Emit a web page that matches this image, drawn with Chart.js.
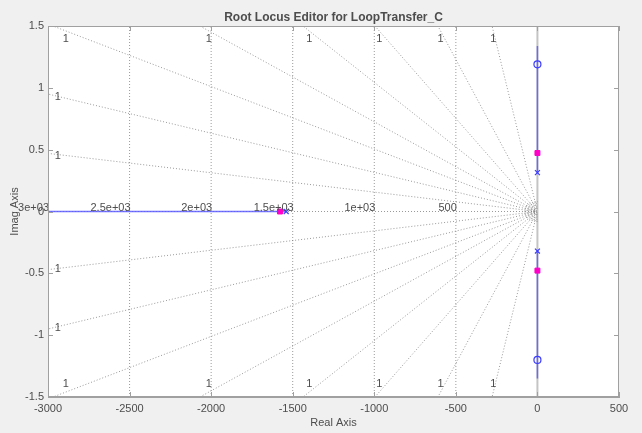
<!DOCTYPE html>
<html>
<head>
<meta charset="utf-8">
<script src="https://cdn.jsdelivr.net/npm/chart.js@4"></script>
<style>
html, body { margin: 0; padding: 0; background: #f0f0f0; }
</style>
</head>
<body>
<canvas id="rootLocus" width="642" height="433"></canvas>
<script>
// axis ticks
const xTicks = [-3000, -2500, -2000, -1500, -1000, -500, 0, 500]
const yTicks = [-1.5, -1, -0.5, 0, 0.5, 1, 1.5]

// natural frequency grid (wn) and its labels
const freqValues = [3000, 2500, 2000, 1500, 1000, 500]
const freqLabels = ['3e+03', '2.5e+03', '2e+03', '1.5e+03', '1e+03', '500']

// damping grid lines: end point of each ray from the origin (upper half)
const dampEndRe = [-3000, -3000, -2970, -2069, -1437, -996, -610, -278]
const dampEndIm = [0.47, 0.95, 1.5, 1.5, 1.5, 1.5, 1.5, 1.5]
const dampLabels = ['1', '1', '1', '1', '1', '1', '1', '1']

// small wn arcs close to the origin
const arcRe = [12, 24, 36, 50, 64, 78]
const arcIm = [0.012, 0.025, 0.038, 0.052, 0.066, 0.08]

// root locus branches
const branchRealRe = [-3000, -1540]
const branchRealIm = [0, 0]
const branchUpRe = [0, 0]
const branchUpIm = [0.314, 1.338]
const branchDownRe = [0, 0]
const branchDownIm = [-0.32, -1.35]

// open loop poles (x), zeros (o), closed loop poles (squares)
const olPolesRe = [-1540, 0, 0]
const olPolesIm = [0, 0.314, -0.32]
const zerosRe = [0, 0]
const zerosIm = [1.19, -1.2]
const clPolesRe = [-1578, 0, 0]
const clPolesIm = [0, 0.473, -0.478]

const gridColor = 'rgba(120,120,120,0.75)'
const axisColor = '#a0a0a0'
const textColor = '#4d4d4d'
const locusColor = 'rgba(90,90,255,0.85)'
const markerBlue = '#3c3cff'
const magenta = '#ff00c8'
const fontFamily = "'Liberation Sans', Arial, sans-serif"

function pts(re, im) {
    return re.map((r, i) => ({ x: r, y: im[i] }))
}

function lineSet(data, color, width, dash, order) {
    return {
        data: data,
        showLine: true,
        borderColor: color,
        borderWidth: width,
        borderDash: dash,
        pointRadius: 0,
        fill: false,
        order: order
    }
}

var datasets = []

// damping rays, upper and lower half
dampEndRe.forEach((re, i) => {
    datasets.push(lineSet([{ x: 0, y: 0 }, { x: re, y: dampEndIm[i] }], gridColor, 1, [1, 2], 10))
    datasets.push(lineSet([{ x: 0, y: 0 }, { x: re, y: -dampEndIm[i] }], gridColor, 1, [1, 2], 10))
})

// wn lines (semicircles look vertical at this aspect)
freqValues.forEach(f => {
    datasets.push(lineSet([{ x: -f, y: -1.5 }, { x: -f, y: 1.5 }], gridColor, 1, [1, 2], 10))
})

// zeta = 1 line and zeta = 0 line
datasets.push(lineSet([{ x: -3000, y: 0 }, { x: 0, y: 0 }], gridColor, 1, [1, 2], 10))
datasets.push(lineSet([{ x: 0, y: -1.5 }, { x: 0, y: 1.5 }], '#c4c4c4', 2, [], 9))

// locus branches
datasets.push(lineSet(pts(branchRealRe, branchRealIm), locusColor, 1.5, [], 5))
datasets.push(lineSet(pts(branchUpRe, branchUpIm), locusColor, 1.5, [], 5))
datasets.push(lineSet(pts(branchDownRe, branchDownIm), locusColor, 1.5, [], 5))

datasets.push({
    data: pts(olPolesRe, olPolesIm),
    pointStyle: 'crossRot',
    pointRadius: 3.5,
    borderColor: markerBlue,
    borderWidth: 1.2,
    order: 1
})
datasets.push({
    data: pts(zerosRe, zerosIm),
    pointStyle: 'circle',
    pointRadius: 3.5,
    borderColor: markerBlue,
    backgroundColor: 'rgba(0,0,0,0)',
    borderWidth: 1.2,
    order: 1
})
datasets.push({
    data: pts(clPolesRe, clPolesIm),
    pointStyle: 'rect',
    pointRadius: 3.5,
    borderColor: magenta,
    backgroundColor: magenta,
    borderWidth: 1,
    order: 0
})

const overlay = {
    id: 'overlay',
    beforeDraw(chart) {
        const { ctx, chartArea: a } = chart
        ctx.save()
        ctx.fillStyle = '#ffffff'
        ctx.fillRect(a.left, a.top, a.right - a.left, a.bottom - a.top)
        ctx.restore()
    },
    afterDatasetsDraw(chart) {
        const { ctx, chartArea: a } = chart
        const x = chart.scales.x
        const y = chart.scales.y
        const x0 = x.getPixelForValue(0)
        const y0 = y.getPixelForValue(0)

        // arcs near origin
        ctx.save()
        ctx.beginPath()
        ctx.rect(a.left, a.top, a.right - a.left, a.bottom - a.top)
        ctx.clip()
        ctx.strokeStyle = gridColor
        ctx.lineWidth = 1
        ctx.setLineDash([1, 1.5])
        arcRe.forEach((r, i) => {
            const rx = x0 - x.getPixelForValue(-r)
            const ry = y0 - y.getPixelForValue(arcIm[i])
            ctx.beginPath()
            ctx.ellipse(x0, y0, rx, ry, 0, Math.PI / 2, Math.PI * 1.5)
            ctx.stroke()
        })
        ctx.restore()

        ctx.save()
        ctx.fillStyle = textColor
        ctx.font = '11px ' + fontFamily

        // wn labels
        ctx.textAlign = 'right'
        ctx.textBaseline = 'alphabetic'
        freqValues.forEach((f, i) => {
            ctx.fillText(freqLabels[i], x.getPixelForValue(-f) + 1, y0 - 1)
        })

        // damping labels
        ctx.textAlign = 'center'
        ctx.textBaseline = 'middle'
        dampEndRe.forEach((re, i) => {
            const im = dampEndIm[i]
            var lx, ly
            if (im >= 1.5) {
                lx = x.getPixelForValue(re * 1.46 / im)
                ly = y.getPixelForValue(1.46) + 8
                ctx.fillText(dampLabels[i], lx, ly)
                ctx.fillText(dampLabels[i], lx, y.getPixelForValue(-1.46) - 8)
            } else {
                const xr = -2940
                lx = x.getPixelForValue(xr)
                ctx.fillText(dampLabels[i], lx, y.getPixelForValue(im * xr / re) + 1)
                ctx.fillText(dampLabels[i], lx, y.getPixelForValue(-im * xr / re) + 1)
            }
        })
        ctx.restore()

        // box and inside ticks
        ctx.save()
        ctx.strokeStyle = axisColor
        ctx.lineWidth = 1
        ctx.strokeRect(a.left + 0.5, a.top + 0.5, a.right - a.left - 1, a.bottom - a.top - 1)
        ctx.beginPath()
        xTicks.forEach(v => {
            const px = Math.round(x.getPixelForValue(v)) + 0.5
            ctx.moveTo(px, a.bottom)
            ctx.lineTo(px, a.bottom - 5)
            ctx.moveTo(px, a.top)
            ctx.lineTo(px, a.top + 5)
        })
        yTicks.forEach(v => {
            const py = Math.round(y.getPixelForValue(v)) + 0.5
            ctx.moveTo(a.left, py)
            ctx.lineTo(a.left + 5, py)
            ctx.moveTo(a.right, py)
            ctx.lineTo(a.right - 5, py)
        })
        ctx.stroke()
        ctx.restore()
    }
}

new Chart(document.getElementById('rootLocus').getContext('2d'), {
    type: 'scatter',
    data: { datasets: datasets },
    plugins: [overlay],
    options: {
        responsive: false,
        devicePixelRatio: 1,
        animation: false,
        layout: { padding: { left: 0, right: 23, top: 0, bottom: 0 } },
        plugins: {
            legend: { display: false },
            tooltip: { enabled: false },
            title: {
                display: true,
                text: 'Root Locus Editor for LoopTransfer_C',
                fullSize: false,
                color: textColor,
                font: { family: fontFamily, size: 12, weight: 'bold' },
                padding: { top: 10, bottom: 1.6 }
            }
        },
        scales: {
            x: {
                type: 'linear',
                min: -3000,
                max: 500,
                afterBuildTicks: scale => { scale.ticks = xTicks.map(v => ({ value: v })) },
                afterFit: scale => { scale.height = 36 },
                grid: { drawOnChartArea: false, drawTicks: false },
                border: { color: axisColor },
                ticks: {
                    color: textColor,
                    font: { family: fontFamily, size: 11 },
                    padding: 5,
                    maxRotation: 0,
                    autoSkip: false,
                    callback: v => String(v)
                },
                title: {
                    display: true,
                    text: 'Real Axis',
                    color: textColor,
                    font: { family: fontFamily, size: 11 },
                    padding: { top: 0, bottom: 3 }
                }
            },
            y: {
                type: 'linear',
                min: -1.5,
                max: 1.5,
                afterBuildTicks: scale => { scale.ticks = yTicks.map(v => ({ value: v })) },
                afterFit: scale => { scale.width = 48 },
                grid: { drawOnChartArea: false, drawTicks: false },
                border: { color: axisColor },
                ticks: {
                    color: textColor,
                    font: { family: fontFamily, size: 11 },
                    padding: 4,
                    autoSkip: false,
                    callback: v => String(v)
                },
                title: {
                    display: true,
                    text: 'Imag Axis',
                    color: textColor,
                    font: { family: fontFamily, size: 11 },
                    padding: { top: 8, bottom: 0 }
                }
            }
        }
    }
})
</script>
</body>
</html>
